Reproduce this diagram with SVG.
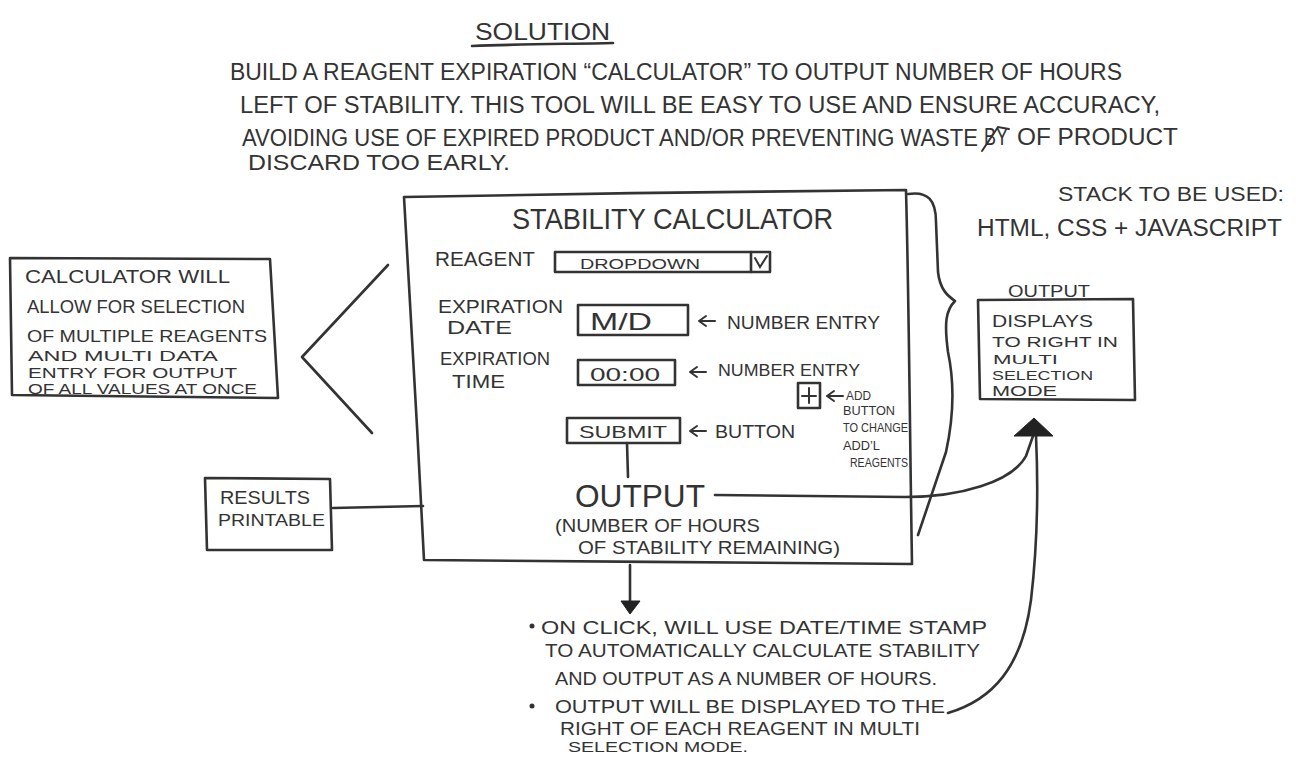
<svg xmlns="http://www.w3.org/2000/svg" width="1298" height="757" viewBox="0 0 1298 757">
<style>
text{font-family:"Liberation Sans",Arial,sans-serif;fill:#333;}
.s{fill:none;stroke:#333;stroke-width:2.6;stroke-linecap:round;stroke-linejoin:round;}
.t{stroke:#333;stroke-width:2;fill:none;stroke-linecap:round;}
.f{fill:#222;stroke:#222;stroke-width:1;}
</style>
<defs>
<path id="larr" d="M0,0 L7,-5 M0,0 L7,5 M0,0 L16,0"/>
</defs>
<rect width="1298" height="757" fill="#fff"/>

<g id="title">
<text x="475" y="40" font-size="24" textLength="135" lengthAdjust="spacingAndGlyphs">SOLUTION</text>
<path class="s" d="M472,46 C520,44 570,44 613,43"/>
</g>

<g id="intro">
<text x="230" y="80" font-size="23" textLength="892" lengthAdjust="spacingAndGlyphs">BUILD A REAGENT EXPIRATION “CALCULATOR” TO OUTPUT NUMBER OF HOURS</text>
<text x="240" y="113" font-size="23" textLength="920" lengthAdjust="spacingAndGlyphs">LEFT OF STABILITY. THIS TOOL WILL BE EASY TO USE AND ENSURE ACCURACY,</text>
<text x="242" y="146" font-size="23" textLength="736" lengthAdjust="spacingAndGlyphs">AVOIDING USE OF EXPIRED PRODUCT AND/OR PREVENTING WASTE</text>
<text x="984" y="145" font-size="23" textLength="24" lengthAdjust="spacingAndGlyphs">BY</text>
<path class="t" d="M982,151 L998,127 L1009,129"/>
<text x="1017" y="145" font-size="23" textLength="161" lengthAdjust="spacingAndGlyphs">OF PRODUCT</text>
<text x="248" y="170" font-size="22" textLength="262" lengthAdjust="spacingAndGlyphs">DISCARD TOO EARLY.</text>
</g>

<g id="stack">
<text x="1058" y="201" font-size="20" textLength="226" lengthAdjust="spacingAndGlyphs">STACK TO BE USED:</text>
<text x="977" y="236" font-size="23" textLength="305" lengthAdjust="spacingAndGlyphs">HTML, CSS + JAVASCRIPT</text>
</g>

<g id="calculator">
<path class="s" d="M404,197 C560,194 760,191 906,190 C909,300 910,450 912,564 C760,563 580,561 424,560 C418,440 410,300 404,197 Z"/>
<text x="512" y="229" font-size="30" textLength="321" lengthAdjust="spacingAndGlyphs">STABILITY CALCULATOR</text>
<text x="435" y="266" font-size="20" textLength="100" lengthAdjust="spacingAndGlyphs">REAGENT</text>
<rect class="s" x="555" y="252" width="215" height="20"/>
<path class="s" d="M751,252 L751,272"/>
<path class="t" d="M755,258 L760,267 L767,256"/>
<text x="580" y="269" font-size="15" textLength="120" lengthAdjust="spacingAndGlyphs">DROPDOWN</text>

<text x="438" y="313" font-size="19" textLength="125" lengthAdjust="spacingAndGlyphs">EXPIRATION</text>
<text x="447" y="334" font-size="19" textLength="65" lengthAdjust="spacingAndGlyphs">DATE</text>
<rect class="s" x="578" y="305" width="110" height="30"/>
<text x="590" y="330" font-size="24" textLength="62" lengthAdjust="spacingAndGlyphs">M/D</text>
<use href="#larr" class="t" x="699" y="321"/>
<text x="727" y="329" font-size="18" textLength="153" lengthAdjust="spacingAndGlyphs">NUMBER ENTRY</text>

<text x="440" y="365" font-size="18" textLength="110" lengthAdjust="spacingAndGlyphs">EXPIRATION</text>
<text x="452" y="388" font-size="19" textLength="53" lengthAdjust="spacingAndGlyphs">TIME</text>
<rect class="s" x="578" y="360" width="97" height="25"/>
<text x="590" y="381" font-size="19" textLength="70" lengthAdjust="spacingAndGlyphs">00:00</text>
<use href="#larr" class="t" x="690" y="372"/>
<text x="718" y="376" font-size="16" textLength="142" lengthAdjust="spacingAndGlyphs">NUMBER ENTRY</text>

<rect class="s" x="798" y="383" width="22" height="25"/>
<path class="t" d="M809,388 L809,403 M802,396 L816,396"/>
<use href="#larr" class="t" x="827" y="396"/>
<text x="846" y="400" font-size="13" textLength="25" lengthAdjust="spacingAndGlyphs">ADD</text>
<text x="843" y="415" font-size="13" textLength="52" lengthAdjust="spacingAndGlyphs">BUTTON</text>
<text x="843" y="432" font-size="12" textLength="65" lengthAdjust="spacingAndGlyphs">TO CHANGE</text>
<text x="843" y="450" font-size="13" textLength="37" lengthAdjust="spacingAndGlyphs">ADD’L</text>
<text x="850" y="467" font-size="12" textLength="58" lengthAdjust="spacingAndGlyphs">REAGENTS</text>

<rect class="s" x="567" y="418" width="113" height="25"/>
<text x="579" y="438" font-size="17" textLength="88" lengthAdjust="spacingAndGlyphs">SUBMIT</text>
<use href="#larr" class="t" x="690" y="431"/>
<text x="715" y="438" font-size="18" textLength="80" lengthAdjust="spacingAndGlyphs">BUTTON</text>
<path class="s" d="M627,443 L628,477"/>

<text x="575" y="507" font-size="32" textLength="130" lengthAdjust="spacingAndGlyphs">OUTPUT</text>
<text x="555" y="532" font-size="19" textLength="205" lengthAdjust="spacingAndGlyphs">(NUMBER OF HOURS</text>
<text x="578" y="554" font-size="19" textLength="262" lengthAdjust="spacingAndGlyphs">OF STABILITY REMAINING)</text>
</g>

<g id="brace">
<path class="s" d="M908,194 C928,191 936,200 936,222 L938,272 C940,290 948,296 955,301 C946,310 944,322 948,352 C955,385 953,420 946,452 L918,535"/>
</g>

<g id="multi-note">
<path class="s" d="M10,258 L270,259 L278,398 L12,395 Z"/>
<text x="25" y="283" font-size="18" textLength="205" lengthAdjust="spacingAndGlyphs">CALCULATOR WILL</text>
<text x="27" y="313" font-size="18" textLength="218" lengthAdjust="spacingAndGlyphs">ALLOW FOR SELECTION</text>
<text x="27" y="342" font-size="17" textLength="240" lengthAdjust="spacingAndGlyphs">OF MULTIPLE REAGENTS</text>
<text x="28" y="361" font-size="15" textLength="190" lengthAdjust="spacingAndGlyphs">AND MULTI DATA</text>
<text x="28" y="378" font-size="15" textLength="209" lengthAdjust="spacingAndGlyphs">ENTRY FOR OUTPUT</text>
<text x="28" y="394" font-size="14" textLength="229" lengthAdjust="spacingAndGlyphs">OF ALL VALUES AT ONCE</text>
</g>

<g id="results">
<path class="s" d="M205,478 L330,479 L332,550 L207,550 Z"/>
<text x="220" y="504" font-size="18" textLength="90" lengthAdjust="spacingAndGlyphs">RESULTS</text>
<text x="218" y="526" font-size="17" textLength="107" lengthAdjust="spacingAndGlyphs">PRINTABLE</text>
</g>

<g id="output-box">
<text x="1008" y="297" font-size="16" textLength="82" lengthAdjust="spacingAndGlyphs">OUTPUT</text>
<path class="s" d="M978,300 L1133,299 L1135,400 L980,399 Z"/>
<text x="992" y="327" font-size="16" textLength="101" lengthAdjust="spacingAndGlyphs">DISPLAYS</text>
<text x="992" y="347" font-size="15" textLength="126" lengthAdjust="spacingAndGlyphs">TO RIGHT IN</text>
<text x="993" y="364" font-size="13" textLength="65" lengthAdjust="spacingAndGlyphs">MULTI</text>
<text x="992" y="380" font-size="13" textLength="101" lengthAdjust="spacingAndGlyphs">SELECTION</text>
<text x="992" y="396" font-size="14" textLength="65" lengthAdjust="spacingAndGlyphs">MODE</text>
</g>

<g id="notes">
<circle cx="532" cy="626" r="2.5" fill="#333"/>
<text x="541" y="634" font-size="19" textLength="446" lengthAdjust="spacingAndGlyphs">ON CLICK, WILL USE DATE/TIME STAMP</text>
<text x="545" y="657" font-size="19" textLength="435" lengthAdjust="spacingAndGlyphs">TO AUTOMATICALLY CALCULATE STABILITY</text>
<text x="555" y="685" font-size="19" textLength="382" lengthAdjust="spacingAndGlyphs">AND OUTPUT AS A NUMBER OF HOURS.</text>
<circle cx="532" cy="706" r="2.5" fill="#333"/>
<text x="555" y="713" font-size="19" textLength="390" lengthAdjust="spacingAndGlyphs">OUTPUT WILL BE DISPLAYED TO THE</text>
<text x="560" y="735" font-size="18" textLength="360" lengthAdjust="spacingAndGlyphs">RIGHT OF EACH REAGENT IN MULTI</text>
<text x="568" y="752" font-size="15" textLength="180" lengthAdjust="spacingAndGlyphs">SELECTION MODE.</text>
</g>

<g id="connectors">
<path class="s" d="M388,265 L302,357 L372,433"/>
<path class="s" d="M333,508 L423,506"/>
<path class="s" d="M630,565 L630,605"/>
<polygon class="f" points="621,601 640,601 630,614"/>
<path class="s" d="M715,495 L905,497 C960,497 1012,482 1026,456 L1033,436"/>
<path class="s" d="M948,713 C992,700 1022,668 1031,600 C1038,540 1038,480 1036,436"/>
<polygon class="f" points="1034,418 1014,436 1053,436"/>
</g>
</svg>
